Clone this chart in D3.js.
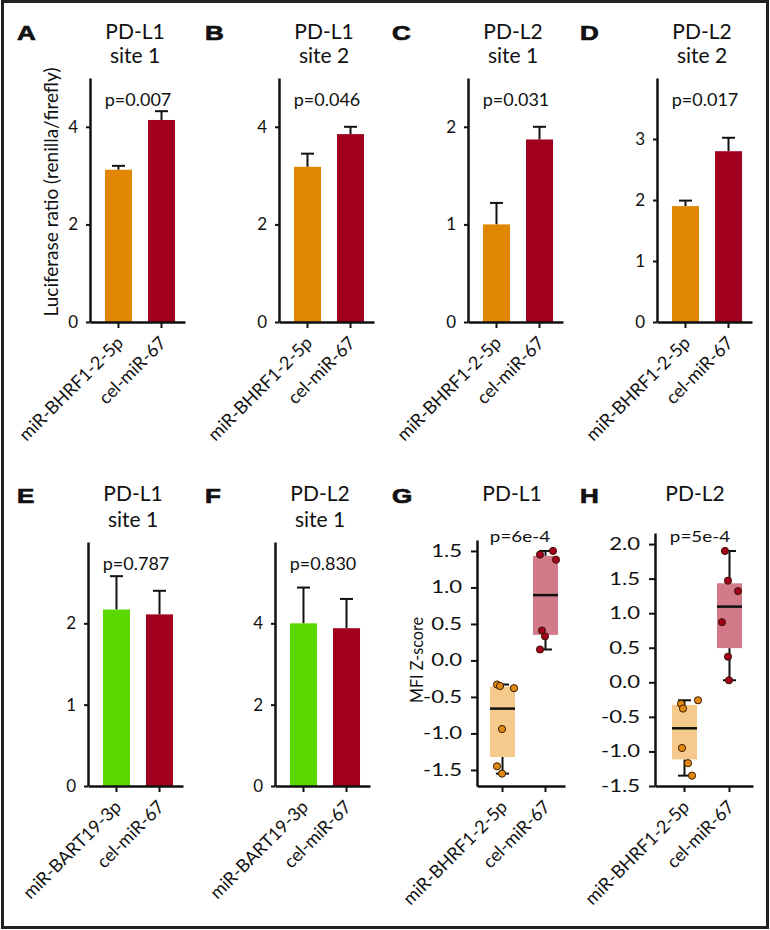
<!DOCTYPE html>
<html>
<head>
<meta charset="utf-8">
<script src="https://cdn.jsdelivr.net/npm/d3@7"></script>
<style>
  body { margin: 0; background: #fff; }
  svg { display: block; }
  text { font-family: Lato, 'Open Sans', sans-serif; fill: #111; }
</style>
</head>
<body>
<div id="figure"></div>
<script>
// ---- data ----
const bhrfCategories = ['miR-BHRF1-2-5p', 'cel-miR-67'];
const bartCategories = ['miR-BART19-3p', 'cel-miR-67'];

const barLetters = ['A', 'B', 'C', 'D', 'E', 'F'];
const barTitles = [['PD-L1', 'site 1'], ['PD-L1', 'site 2'], ['PD-L2', 'site 1'],
                   ['PD-L2', 'site 2'], ['PD-L1', 'site 1'], ['PD-L2', 'site 1']];
const barMeans = [[3.12, 4.14], [3.18, 3.85], [1.00, 1.87], [1.90, 2.80], [2.17, 2.11], [4.00, 3.88]];
const barErrors = [[0.08, 0.18], [0.27, 0.15], [0.22, 0.13], [0.09, 0.22], [0.41, 0.29], [0.88, 0.72]];
const barPValues = ['p=0.007', 'p=0.046', 'p=0.031', 'p=0.017', 'p=0.787', 'p=0.830'];
const barYMax = [5, 5, 2.5, 4, 3, 6];
const barYTicks = [[0, 2, 4], [0, 2, 4], [0, 1, 2], [0, 1, 2, 3], [0, 1, 2], [0, 2, 4]];

const boxLetters = ['G', 'H'];
const boxTitles = ['PD-L1', 'PD-L2'];
const boxPValues = ['p=6e-4', 'p=5e-4'];
const boxBhrfValues = [[-0.33, -0.35, -0.38, -0.94, -1.45, -1.55], [-0.26, -0.31, -0.38, -0.95, -1.17, -1.35]];
const boxCelValues = [[1.50, 1.45, 1.38, 0.41, 0.33, 0.15], [1.90, 1.47, 1.32, 0.87, 0.37, 0.03]];
// horizontal jitter of the dots, as a fraction of the box width
const boxBhrfJitter = [[-0.22, -0.1, 0.46, -0.02, -0.22, -0.02], [0.54, -0.14, -0.06, -0.1, 0.14, 0.3]];
const boxCelJitter = [[0.3, -0.22, 0.42, -0.14, -0.02, -0.22], [-0.18, -0.06, 0.34, -0.3, -0.06, -0.02]];
const boxYDomain = [[-1.72, 1.65], [-1.5, 2.16]];
const boxYTicks = [[-1.5, -1, -0.5, 0, 0.5, 1, 1.5], [-1.5, -1, -0.5, 0, 0.5, 1, 1.5, 2]];

// ---- layout ----
const width = 770, height = 930;
const colors = {orange: '#e08600', red: '#a0001e', green: '#5cd800',
                boxOrange: '#f5ca8c', boxRed: '#d27a8a', dotOrange: '#e08a12', dotRed: '#a3001f'};
const barAxisX = [90, 279, 468, 657, 88, 275];
const barRow = [0, 0, 0, 0, 1, 1];
const barLetterX = [17, 205, 392, 580, 17, 205];
const rows = [
    {yTop: 78, yBottom: 322, letterY: 40, title1: 39, title2: 63, pY: 106},
    {yTop: 542, yBottom: 786, letterY: 503, title1: 501, title2: 527, pY: 570}
];
const boxAxisX = [477, 655];
const boxLetterX = [392, 580];
const boxYTop = [540, 533];
const boxBand = [
    {len: 88, inner: 0.419, outer: 0.233, align: 0.65, titleDx: 35, pDx: 43},
    {len: 98, inner: 0.444, outer: 0.311, align: 0.607, titleDx: 40, pDx: 45}
];
const boxStretch = 1.3;   // the G/H panels are widened in the original

const svg = d3.select('#figure')
    .append('svg')
    .attr('width', width)
    .attr('height', height);

svg.append('rect')
    .attr('x', 2.5).attr('y', 1.5)
    .attr('width', width - 5).attr('height', height - 4)
    .attr('fill', 'none')
    .attr('stroke', '#222')
    .attr('stroke-width', 3);

function styleAxis(g) {
    g.select('.domain').attr('stroke', '#111').attr('stroke-width', 2.5);
    g.selectAll('.tick line').attr('stroke', '#111').attr('stroke-width', 2);
    g.selectAll('.tick text').style('font-size', '17px').attr('fill', '#111');
}

function drawYAxis(g, y, ticks, x, fmt, size, pad, stretch) {
    const a = g.append('g')
        .attr('transform', `translate(${x},0)`)
        .call(d3.axisLeft(y).tickValues(ticks).tickSize(size).tickSizeOuter(0).tickPadding(pad).tickFormat(fmt))
        .call(styleAxis);
    if (stretch) a.selectAll('.tick text').attr('transform', `scale(${stretch},1)`);
}

function drawXAxis(g, x, yPos) {
    g.append('g')
        .attr('transform', `translate(0,${yPos})`)
        .call(d3.axisBottom(x).tickSize(6).tickSizeOuter(0).tickFormat(''))
        .call(styleAxis);
    // rotated category labels
    g.selectAll(null)
        .data(x.domain())
        .enter()
        .append('text')
        .attr('transform', d => `translate(${x(d) + x.bandwidth() / 2 + 6},${yPos + 22}) rotate(-45)`)
        .attr('text-anchor', 'end')
        .style('font-size', '18px')
        .text(d => d);
}

function centeredText(g, x, y, size, stretch, txt) {
    g.append('text')
        .attr('transform', `translate(${x},${y}) scale(${stretch},1)`)
        .attr('text-anchor', 'middle')
        .style('font-size', size + 'px')
        .text(txt);
}

function drawHeader(g, letter, letterX, letterY, lines, titleX, lineYs) {
    g.append('text')
        .attr('transform', `translate(${letterX},${letterY}) scale(1.3,1)`)
        .style('font-family', "'Liberation Sans', Arial, sans-serif")
        .style('font-weight', 'bold')
        .style('font-size', '20px')
        .attr('stroke', '#111')
        .attr('stroke-width', 0.7)
        .text(letter);
    lines.forEach((t, k) => centeredText(g, titleX, lineYs[k], 21, 1, t));
}

// ---- bar panels A-F ----
barMeans.forEach((means, i) => {
    const row = rows[barRow[i]];
    const ax = barAxisX[i];
    const cats = i < 4 ? bhrfCategories : bartCategories;
    const g = svg.append('g').attr('class', 'panel');

    const x = d3.scaleBand()
        .domain(cats)
        .range([ax, ax + 95])
        .paddingInner(0.372)
        .paddingOuter(0.29)
        .align(0.6);
    const y = d3.scaleLinear()
        .domain([0, barYMax[i]])
        .range([row.yBottom, row.yTop]);

    const fills = [i < 4 ? colors.orange : colors.green, colors.red];
    const data = cats.map((c, k) => ({cat: c, mean: means[k], err: barErrors[i][k], fill: fills[k]}));

    // error bars (drawn first so the bar covers the lower half)
    data.forEach(d => {
        const cx = x(d.cat) + x.bandwidth() / 2;
        g.append('line')
            .attr('x1', cx).attr('x2', cx)
            .attr('y1', y(d.mean)).attr('y2', y(d.mean + d.err))
            .attr('stroke', '#111').attr('stroke-width', 2);
        g.append('line')
            .attr('x1', cx - 6.5).attr('x2', cx + 6.5)
            .attr('y1', y(d.mean + d.err)).attr('y2', y(d.mean + d.err))
            .attr('stroke', '#111').attr('stroke-width', 2);
    });

    g.selectAll('.bar')
        .data(data)
        .enter()
        .append('rect')
        .attr('class', 'bar')
        .attr('x', d => x(d.cat))
        .attr('width', x.bandwidth())
        .attr('y', d => y(d.mean))
        .attr('height', d => y(0) - y(d.mean))
        .attr('fill', d => d.fill);

    drawYAxis(g, y, barYTicks[i], ax, d3.format('d'), 4, 8, 0);
    drawXAxis(g, x, row.yBottom);

    drawHeader(g, barLetters[i], barLetterX[i], row.letterY, barTitles[i], ax + 45, [row.title1, row.title2]);
    centeredText(g, ax + 48, row.pY, 18, 1, barPValues[i]);
});

// y label for the luciferase panels
svg.append('text')
    .attr('transform', 'translate(58,192) rotate(-90)')
    .attr('text-anchor', 'middle')
    .attr('textLength', 249)
    .attr('lengthAdjust', 'spacingAndGlyphs')
    .style('font-size', '20px')
    .text('Luciferase ratio (renilla/firefly)');

// ---- box panels G-H ----
boxBhrfValues.forEach((bhrf, i) => {
    const ax = boxAxisX[i];
    const band = boxBand[i];
    const yBottom = rows[1].yBottom;
    const g = svg.append('g').attr('class', 'panel');

    const x = d3.scaleBand()
        .domain(bhrfCategories)
        .range([ax, ax + band.len])
        .paddingInner(band.inner)
        .paddingOuter(band.outer)
        .align(band.align);
    const y = d3.scaleLinear()
        .domain(boxYDomain[i])
        .range([yBottom, boxYTop[i]]);

    const groups = [
        {cat: bhrfCategories[0], values: bhrf, jitter: boxBhrfJitter[i], box: colors.boxOrange, dot: colors.dotOrange},
        {cat: bhrfCategories[1], values: boxCelValues[i], jitter: boxCelJitter[i], box: colors.boxRed, dot: colors.dotRed}
    ];

    groups.forEach(grp => {
        const sorted = grp.values.slice().sort(d3.ascending);
        const q1 = d3.quantile(sorted, 0.25);
        const med = d3.quantile(sorted, 0.5);
        const q3 = d3.quantile(sorted, 0.75);
        const iqr = q3 - q1;
        const lo = d3.min(sorted.filter(v => v >= q1 - 1.5 * iqr));
        const hi = d3.max(sorted.filter(v => v <= q3 + 1.5 * iqr));
        const x0 = x(grp.cat), bw = x.bandwidth(), cx = x0 + bw / 2;

        // whiskers
        [[q3, hi], [q1, lo]].forEach(([a, b]) => {
            g.append('line')
                .attr('x1', cx).attr('x2', cx)
                .attr('y1', y(a)).attr('y2', y(b))
                .attr('stroke', '#111').attr('stroke-width', 2);
            g.append('line')
                .attr('x1', cx - 6.5).attr('x2', cx + 6.5)
                .attr('y1', y(b)).attr('y2', y(b))
                .attr('stroke', '#111').attr('stroke-width', 2);
        });

        g.append('rect')
            .attr('x', x0)
            .attr('width', bw)
            .attr('y', y(q3))
            .attr('height', y(q1) - y(q3))
            .attr('fill', grp.box);

        g.append('line')
            .attr('x1', x0).attr('x2', x0 + bw)
            .attr('y1', y(med)).attr('y2', y(med))
            .attr('stroke', '#111').attr('stroke-width', 2.5);

        g.selectAll(null)
            .data(grp.values)
            .enter()
            .append('circle')
            .attr('cx', (d, k) => cx + grp.jitter[k] * bw)
            .attr('cy', d => y(d))
            .attr('r', 3.6)
            .attr('fill', grp.dot)
            .attr('stroke', '#3a1a00')
            .attr('stroke-width', 1);
    });

    // plain hyphen for negatives, as in the original
    drawYAxis(g, y, boxYTicks[i], ax, d => d.toFixed(1), 6, 5.5, boxStretch);
    drawXAxis(g, x, yBottom);

    drawHeader(g, boxLetters[i], boxLetterX[i], rows[1].letterY, [boxTitles[i]], ax + band.titleDx, [rows[1].title1]);
    centeredText(g, ax + band.pDx, 542, 14.5, boxStretch, boxPValues[i]);
});

svg.append('text')
    .attr('transform', 'translate(423,660) rotate(-90)')
    .attr('text-anchor', 'middle')
    .attr('textLength', 86)
    .attr('lengthAdjust', 'spacingAndGlyphs')
    .style('font-size', '17px')
    .text('MFI Z-score');
</script>
</body>
</html>
